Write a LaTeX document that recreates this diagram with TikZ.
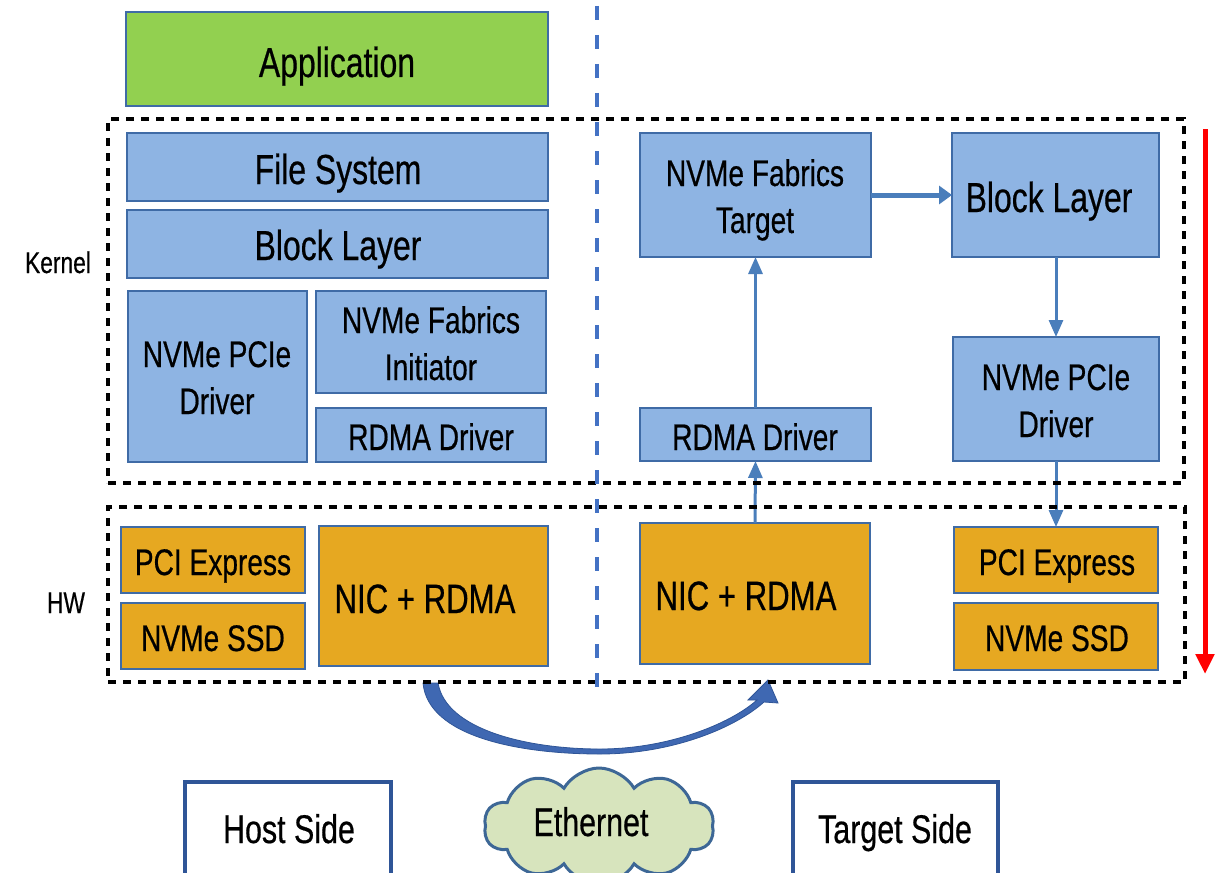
\documentclass[tikz,border=0pt]{standalone}
\usepackage{fontspec}
\setmainfont[FakeStretch=0.76,FakeBold=0.5]{Liberation Sans}
\usetikzlibrary{arrows.meta,shapes.symbols,fit}

\definecolor{boxblue}{HTML}{8EB4E3}
\definecolor{boxedge}{HTML}{3F6BA6}
\definecolor{appgreen}{HTML}{92D050}
\definecolor{hworange}{HTML}{E6A821}
\definecolor{connblue}{HTML}{4A7EBB}
\definecolor{sepblue}{HTML}{4472C4}
\definecolor{sideedge}{HTML}{2F5597}
\definecolor{cloudfill}{HTML}{D7E4BD}
\definecolor{cloudedge}{HTML}{3D6796}
\definecolor{curvefill}{HTML}{3F68B2}

\newcommand{\mkbox}[6]{\node[#1, fit={(#3,#4) (#5,#6)}] (#2) {};}

\begin{document}
\begin{tikzpicture}[x=1pt,y=-1pt,
  boxbase/.style={draw=boxedge, line width=1.8pt, inner sep=0pt, outer sep=0pt},
  bluebox/.style={boxbase, fill=boxblue},
  greenbox/.style={boxbase, fill=appgreen},
  orangebox/.style={boxbase, fill=hworange},
  sidebox/.style={draw=sideedge, line width=4.5pt, fill=white, inner sep=0pt, outer sep=0pt},
  dashbox/.style={draw=black, line width=4pt, dash pattern=on 8pt off 7pt, inner sep=0pt, outer sep=0pt},
  sepline/.style={draw=sepblue, line width=4.5pt, dash pattern=on 14pt off 15pt},
  lbl/.style={anchor=base, inner sep=0pt, outer sep=0pt, align=center, font=\fontsize{37}{47}\selectfont},
  biglbl/.style={lbl, font=\fontsize{42}{50}\selectfont},
  niclbl/.style={lbl, font=\fontsize{41}{48}\selectfont},
  sidelbl/.style={lbl, font=\fontsize{40}{48}\selectfont},
  smalllbl/.style={lbl, font=\fontsize{30}{36}\selectfont},
  conn/.style={draw=connblue, line width=3pt, -{Triangle[width=14pt,length=17pt]}},
  connthick/.style={draw=connblue, line width=5pt, -{Triangle[width=18pt,length=13pt]}},
  redarrow/.style={draw=red, line width=5pt, -{Triangle[width=18pt,length=20pt]}},
]
\clip (0,0) rectangle (1222,872);
\fill[white] (0,0) rectangle (1222,872);

% ---- curved transfer arrow (under the dashed boxes)
\fill[curvefill, draw=sideedge, line width=0.8pt]
  (423,683) .. controls (428,737) and (520,754) .. (600,754)
  .. controls (672,754) and (735,728) .. (764,702)
  -- (778,703) -- (768,680) -- (748,700) -- (757,700)
  .. controls (730,724) and (668,749) .. (600,749)
  .. controls (528,749) and (446,730) .. (438,683) -- cycle;

% ---- host side
\mkbox{greenbox}{app}{126}{12}{548}{106}
\mkbox{bluebox}{fsL}{127}{133}{548}{201}
\mkbox{bluebox}{blkL}{127}{210}{548}{278}
\mkbox{bluebox}{pcieL}{128}{291}{307}{462}
\mkbox{bluebox}{fabI}{316}{291}{546}{393}
\mkbox{bluebox}{rdmaL}{316}{408}{546}{462}
\mkbox{orangebox}{pciL}{121}{527}{305}{593}
\mkbox{orangebox}{ssdL}{121}{603}{305}{669}
\mkbox{orangebox}{nicL}{319}{526}{548}{666}

% ---- target side
\mkbox{bluebox}{fabT}{640}{133}{871}{257}
\mkbox{bluebox}{blkR}{952}{133}{1159}{257}
\mkbox{bluebox}{rdmaR}{640}{408}{871}{461}
\mkbox{bluebox}{pcieR}{953}{337}{1159}{461}
\mkbox{orangebox}{nicR}{640}{523}{870}{664}
\mkbox{orangebox}{pciR}{954}{527}{1158}{593}
\mkbox{orangebox}{ssdR}{954}{603}{1158}{670}

% ---- texts (multi-line nodes: base = last line)
\node[biglbl] (appT) at (337,77) {Application};
\node[biglbl] (fsLT) at (338,184) {File System};
\node[biglbl] (blkLT) at (338,260) {Block Layer};
\node[lbl] (pcieLT) at (217,414) {NVMe PCIe\\Driver};
\node[lbl] (fabIT) at (431,380) {NVMe Fabrics\\Initiator};
\node[lbl] (rdmaLT) at (431,450) {RDMA Driver};
\node[lbl] (pciLT) at (213,575) {PCI Express};
\node[lbl] (ssdLT) at (213,651) {NVMe SSD};
\node[niclbl] (nicLT) at (425,613) {NIC + RDMA};

\node[lbl] (fabTT) at (755,233) {NVMe Fabrics\\Target};
\node[biglbl] (blkRT) at (1049,212) {Block Layer};
\node[lbl] (rdmaRT) at (755,450) {RDMA Driver};
\node[lbl] (pcieRT) at (1056,437) {NVMe PCIe\\Driver};
\node[niclbl] (nicRT) at (746,610) {NIC + RDMA};
\node[lbl] (pciRT) at (1057,575) {PCI Express};
\node[lbl] (ssdRT) at (1057,651) {NVMe SSD};

\node[smalllbl] (kernT) at (58,273) {Kernel};
\node[smalllbl] (hwT) at (66,613) {HW};

% ---- connectors
\draw[connthick] (fabT) -- (blkR);
\draw[conn] (blkR.south -| 1056,0) -- (pcieR.north -| 1056,0);
\draw[conn] (rdmaR.north) -- (fabT.south);
\draw[conn] (nicR.north) -- (rdmaR.south);
\draw[conn] (pcieR.south -| 1056,0) -- (pciR.north -| 1056,0);

% ---- dashed groups
\node[dashbox, fit={(108,119) (1184,483)}] (kernel) {};
\node[dashbox, fit={(108,507) (1185,682)}] (hw) {};

% ---- separator
\coordinate (sepTop) at (597,6);
\coordinate (sepBot) at (597,690);
\draw[sepline] (sepTop) -- (sepBot);

% ---- red arrow
\coordinate (redTop) at (1205,129);
\coordinate (redBot) at (1205,674);
\draw[redarrow] (redTop) -- (redBot);

% ---- bottom legend
\node[sidebox, fit={(185,782) (391,895)}] (host) {};
\node[sidebox, fit={(793,782) (998,895)}] (target) {};
\node[sidelbl] (hostT) at (289,843) {Host Side};
\node[sidelbl] (targetT) at (895,843) {Target Side};
\node[cloud, cloud puffs=10, cloud puff arc=120, aspect=2.0, draw=cloudedge,
      fill=cloudfill, line width=3pt, minimum width=230pt, minimum height=116pt,
      inner sep=0pt] (eth) at (599,826) {};
\node[sidelbl] (ethT) at (591,836) {Ethernet};
\end{tikzpicture}
\end{document}
